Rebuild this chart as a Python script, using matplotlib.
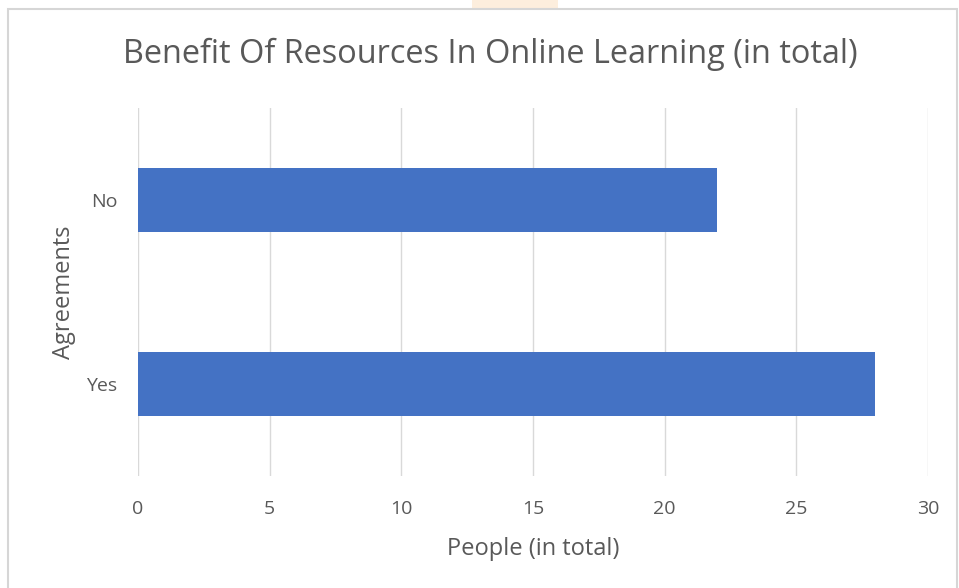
import matplotlib
matplotlib.use("Agg")
import matplotlib.pyplot as plt
from matplotlib.patches import Rectangle

categories = ["Yes", "No"]
people = [28, 22]
x_ticks = [0, 5, 10, 15, 20, 25, 30]

title = "Benefit Of Resources In Online Learning (in total)"
x_label = "People (in total)"
y_label = "Agreements"

text_color = "#595959"
grid_color = "#d9d9d9"
bar_color = "#4472c4"
font = ["Open Sans", "DejaVu Sans"]

plt.rcParams["font.family"] = font

fig = plt.figure(figsize=(9.59, 5.88), dpi=100)
fig.patch.set_facecolor("white")

# chart frame and page background strip
fig.add_artist(Rectangle((472 / 959, 1 - 9 / 588), 86 / 959, 9 / 588,
                         transform=fig.transFigure, facecolor="#fdeedd",
                         edgecolor="none"))
fig.add_artist(Rectangle((8 / 959, -0.02), 949 / 959, 1 - 9 / 588 + 0.02,
                         transform=fig.transFigure, facecolor="none",
                         edgecolor="#d6d6d6", linewidth=1.5))

ax = fig.add_axes([138 / 959, 1 - 476 / 588, (928 - 138) / 959, (476 - 108) / 588])
ypos = list(range(len(categories)))
ax.barh(ypos, people, height=0.35, color=bar_color, zorder=3)

ax.set_xlim(0, 30)
ax.set_ylim(-0.5, len(categories) - 0.5)
ax.set_xticks(x_ticks)
ax.set_xticklabels([str(t) for t in x_ticks])
ax.set_yticks(ypos)
ax.set_yticklabels(categories)

ax.grid(axis="x", color=grid_color, linewidth=1.0, zorder=0)
ax.grid(axis="y", visible=False)
for s in ax.spines.values():
    s.set_visible(False)
ax.tick_params(axis="both", length=0, colors=text_color, labelsize=14)
ax.tick_params(axis="x", pad=17)
ax.tick_params(axis="y", pad=15)

ax.set_xlabel(x_label, color=text_color, fontsize=17, labelpad=14)
ax.set_ylabel(y_label, color=text_color, fontsize=17, labelpad=7)

fig.text(490 / 959, 1 - 54 / 588, title, ha="center", va="center",
         color=text_color, fontsize=23.4)

fig.savefig("out.png", dpi=100, facecolor="white")
